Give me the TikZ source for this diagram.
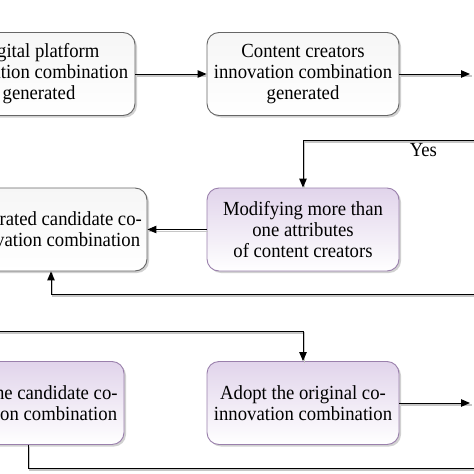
\documentclass[tikz,border=0pt]{standalone}
\usepackage{fontspec}
\setmainfont{Liberation Serif}
\newfontfamily\boxfont[FakeStretch=0.935]{Liberation Serif}
\usepackage{tikz}
\usetikzlibrary{shadows,arrows.meta}
\usetikzlibrary{positioning}

\definecolor{boxline}{HTML}{666666}
\definecolor{lilac}{HTML}{E1D4EB}
\definecolor{lilacline}{HTML}{9A80AC}

\begin{document}
\begin{tikzpicture}[x=1pt, y=-1pt, >={Triangle[length=9pt,width=7.5pt]},
    box/.style={draw=boxline, line width=0.9pt, rounded corners=12pt,
        minimum width=192pt, minimum height=83pt, align=center, inner sep=0pt,
        execute at begin node={\rule{0pt}{19pt}},
        top color=gray!7, bottom color=white,
        drop shadow={shadow xshift=2pt, shadow yshift=-2pt, fill=gray!60, opacity=0.6},
        font=\boxfont\fontsize{20}{21}\selectfont},
    purplebox/.style={box, draw=lilacline, top color=lilac, bottom color=white},
    link/.style={->, line width=1pt,
        preaction={draw=gray!45, line width=1.5pt, -, transform canvas={shift={(1.5pt,-1.8pt)}}}}]
    \useasboundingbox[clip] (0,0) rectangle (474,474);
    % top row
    \node[box] (Platform) at (39,74) {Digital platform\\innovation combination\\generated};
    \node[box] (Creators) at (303,74) {Content creators\\innovation combination\\generated};
    \coordinate (OutTop) at (470,74);
    \draw[link] (Platform) -- (Creators);
    \draw[link] (Creators) -- (OutTop);
    % middle row
    \node[box] (Candidate) at (51,229.5) {Generated candidate co-\\innovation combination};
    \node[purplebox] (Modify) at (303,229.5) {Modifying more than\\one attributes\\of content creators};
    \coordinate (YesIn) at (480,140);
    \coordinate (BackIn) at (480,294);
    \draw[link] (YesIn) -| (Modify.north) node[pos=0.16, below=0pt, font=\boxfont\fontsize{20}{21}\selectfont] {Yes};
    \draw[link] (Modify) -- (Candidate);
    \draw[link] (BackIn) -| (Candidate.south);
    % bottom row
    \node[purplebox] (AdoptCand) at (28,403) {Adopt the candidate co-\\innovation combination};
    \node[purplebox] (AdoptOrig) at (303,403) {Adopt the original co-\\innovation combination};
    \coordinate (LeftIn) at (-10,331);
    \coordinate (OutBot) at (470,403);
    \coordinate (EndOut) at (480,468);
    \draw[link] (LeftIn) -| (AdoptOrig.north);
    \draw[link] (AdoptOrig) -- (OutBot);
    \draw[link, -] (AdoptCand.south) |- (EndOut);
\end{tikzpicture}
\end{document}
